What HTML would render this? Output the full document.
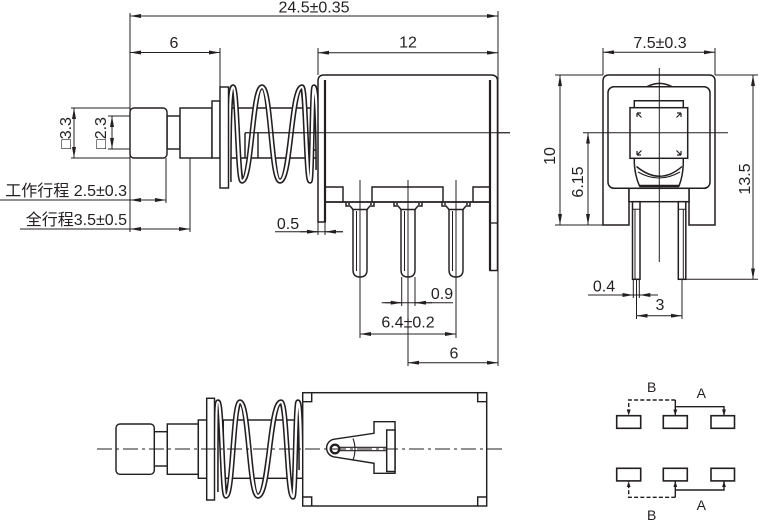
<!DOCTYPE html>
<html><head><meta charset="utf-8"><style>
html,body{margin:0;padding:0;background:#fff;}
svg{display:block;}
text{font-family:"Liberation Sans","Noto Sans CJK SC","DejaVu Sans",sans-serif;fill:#231f20;}
</style></head><body>
<svg width="760" height="520" viewBox="0 0 760 520" xmlns="http://www.w3.org/2000/svg">
<defs>
<marker id="a" viewBox="0 0 11 4" refX="11" refY="2" markerWidth="11" markerHeight="4" markerUnits="userSpaceOnUse" orient="auto-start-reverse"><path d="M0 0L11 2L0 4Z" fill="#231f20"/></marker>
<marker id="s" viewBox="0 0 6 4" refX="6" refY="2" markerWidth="6" markerHeight="4" markerUnits="userSpaceOnUse" orient="auto"><path d="M0 0L6 2L0 4Z" fill="#231f20"/></marker>
</defs>
<rect width="760" height="520" fill="#fff"/>

<!-- ===== dimension & extension lines ===== -->
<g stroke="#231f20" stroke-width="1" fill="none">
<line x1="130" y1="16" x2="498" y2="16" marker-start="url(#a)" marker-end="url(#a)"/>
<line x1="130" y1="52.5" x2="220" y2="52.5" marker-start="url(#a)" marker-end="url(#a)"/>
<line x1="318" y1="52.7" x2="498" y2="52.7" marker-start="url(#a)" marker-end="url(#a)"/>
<line x1="603" y1="52.3" x2="715" y2="52.3" marker-start="url(#a)" marker-end="url(#a)"/>
<line x1="74" y1="108" x2="74" y2="158" marker-start="url(#a)" marker-end="url(#a)"/>
<line x1="112" y1="116" x2="112" y2="149" marker-start="url(#a)" marker-end="url(#a)"/>
<line x1="0" y1="200" x2="166" y2="200"/>
<line x1="148" y1="200" x2="130" y2="200" marker-end="url(#a)"/>
<line x1="148" y1="200" x2="166" y2="200" marker-end="url(#a)"/>
<line x1="20" y1="229" x2="190" y2="229"/>
<line x1="160" y1="229" x2="130" y2="229" marker-end="url(#a)"/>
<line x1="160" y1="229" x2="190" y2="229" marker-end="url(#a)"/>
<line x1="275" y1="231.7" x2="343" y2="231.7"/>
<line x1="300" y1="231.7" x2="318" y2="231.7" marker-end="url(#a)"/>
<line x1="343" y1="231.7" x2="325" y2="231.7" marker-end="url(#a)"/>
<line x1="381.7" y1="302.7" x2="453" y2="302.7"/>
<line x1="385" y1="302.7" x2="401.7" y2="302.7" marker-end="url(#a)"/>
<line x1="432" y1="302.7" x2="415" y2="302.7" marker-end="url(#a)"/>
<line x1="360" y1="334" x2="456" y2="334" marker-start="url(#a)" marker-end="url(#a)"/>
<line x1="408" y1="362.7" x2="498" y2="362.7" marker-start="url(#a)" marker-end="url(#a)"/>
<line x1="560" y1="75" x2="560" y2="225" marker-start="url(#a)" marker-end="url(#a)"/>
<line x1="588" y1="132.7" x2="588" y2="225" marker-start="url(#a)" marker-end="url(#a)"/>
<line x1="753" y1="75" x2="753" y2="279.3" marker-start="url(#a)" marker-end="url(#a)"/>
<line x1="588" y1="295" x2="658" y2="295"/>
<line x1="615" y1="295" x2="633.3" y2="295" marker-end="url(#a)"/>
<line x1="658" y1="295" x2="639.3" y2="295" marker-end="url(#a)"/>
<line x1="636.5" y1="315.7" x2="682" y2="315.7" marker-start="url(#a)" marker-end="url(#a)"/>

<!-- extension lines -->
<line x1="130" y1="13" x2="130" y2="232"/>
<line x1="220" y1="48" x2="220" y2="87"/>
<line x1="318" y1="48" x2="318" y2="75"/>
<line x1="498" y1="11" x2="498" y2="366"/>
<line x1="603" y1="48" x2="603" y2="75"/>
<line x1="715" y1="48" x2="715" y2="75"/>
<line x1="71" y1="108" x2="130" y2="108"/>
<line x1="71" y1="158" x2="130" y2="158"/>
<line x1="108" y1="116" x2="130" y2="116"/>
<line x1="108" y1="149" x2="130" y2="149"/>
<line x1="166" y1="158" x2="166" y2="203"/>
<line x1="190" y1="158" x2="190" y2="232"/>
<line x1="318" y1="222" x2="318" y2="235"/>
<line x1="325" y1="222" x2="325" y2="235"/>
<line x1="401.7" y1="277" x2="401.7" y2="306"/>
<line x1="415" y1="277" x2="415" y2="306"/>
<line x1="555" y1="75" x2="603" y2="75"/>
<line x1="715" y1="75" x2="758" y2="75"/>
<line x1="555" y1="225" x2="603" y2="225"/>
<line x1="685" y1="279.3" x2="758" y2="279.3"/>
<line x1="633.3" y1="279" x2="633.3" y2="298"/>
<line x1="639.3" y1="279" x2="639.3" y2="298"/>
<line x1="636.5" y1="279" x2="636.5" y2="319"/>
<line x1="682" y1="279" x2="682" y2="319"/>
</g>

<!-- ===== TOP VIEW ===== -->
<g stroke="#231f20" stroke-width="1.45" fill="#fff">
<rect x="167" y="116" width="13" height="33"/>
<rect x="130" y="108" width="37" height="50" rx="4"/>
<rect x="180" y="108" width="32" height="50"/>
<rect x="212" y="101" width="8" height="57"/>
<line x1="228" y1="108" x2="318" y2="108"/>
<line x1="228" y1="158" x2="318" y2="158"/>
<path d="M245 158 L245 132.7 M258 158 L258 132.7 M313 158 L313 150 L318 150" fill="none"/>
</g>
<line x1="245" y1="132.7" x2="510" y2="132.7" stroke="#231f20" stroke-width="1"/>
<!-- spring -->
<path d="M229 182 C229 120 230 87 233 87 C237.5 87 237.5 181 242 181 C252 181 252 87 262 87 C271 87 271 181 280 181 C291 181 291 87 302 87 C306 87 306 181 310 181 C312 181 312 87 314 87 C316 87 318 120 318 170" fill="none" stroke="#231f20" stroke-width="5.4"/>
<path d="M229 182 C229 120 230 87 233 87 C237.5 87 237.5 181 242 181 C252 181 252 87 262 87 C271 87 271 181 280 181 C291 181 291 87 302 87 C306 87 306 181 310 181 C312 181 312 87 314 87 C316 87 318 120 318 170" fill="none" stroke="#fff" stroke-width="2.3"/>
<rect x="220" y="87" width="8.5" height="101" fill="#fff" stroke="#231f20" stroke-width="1.45"/>

<!-- body top view -->
<g stroke="#231f20" fill="#fff">
<path d="M318 222 L318 81 Q318 75 324 75 L491 75 Q497.5 75 497.5 81 L497.5 270.5 L490 270.5 L490 202 L325 202 L325 222 Z" stroke-width="1.5"/>
<line x1="325" y1="80" x2="325" y2="222" stroke-width="2.2"/>
<line x1="490" y1="80" x2="490" y2="270.5" stroke-width="2.2"/>
<line x1="490" y1="223" x2="497.5" y2="223" stroke-width="1.3"/>
<path d="M325 187 L343 187 L343 202 M372 202 L372 187 L443 187 L443 202 M473 202 L473 187 L490 187" fill="none" stroke-width="1.45"/>
<line x1="325" y1="202" x2="490" y2="202" stroke-width="1.45"/>
<line x1="245" y1="132.7" x2="510" y2="132.7" stroke-width="1"/>
</g>
<!-- pins top view -->
<g stroke="#231f20" stroke-width="1.45" fill="#fff">
<path d="M353 209 L353 270 Q353 277 360 277 Q367 277 367 270 L367 209"/>
<path d="M401 209 L401 270 Q401 277 408 277 Q415 277 415 270 L415 209"/>
<path d="M449 209 L449 270 Q449 277 456 277 Q463 277 463 270 L463 209"/>
<path d="M356.5 211 L356.5 271 M404.5 211 L404.5 271 M452.5 211 L452.5 271" fill="none" stroke-width="1"/>
<path d="M346 202 L346 206 L350 206 L353 209.5 L367 209.5 L370 206 L374 206 L374 202 M348 204 L350 204 M370 204 L372 204" fill="none"/>
<path d="M394 202 L394 206 L398 206 L401 209.5 L415 209.5 L418 206 L422 206 L422 202 M396 204 L398 204 M418 204 L420 204" fill="none"/>
<path d="M442 202 L442 206 L446 206 L449 209.5 L463 209.5 L466 206 L470 206 L470 202 M444 204 L446 204 M466 204 L468 204" fill="none"/>
</g>
<g stroke="#231f20" stroke-width="1">
<line x1="360" y1="180" x2="360" y2="338"/>
<line x1="456" y1="180" x2="456" y2="338"/>
<line x1="408" y1="180" x2="408" y2="366"/>
</g>

<!-- ===== RIGHT VIEW ===== -->
<g stroke="#231f20" stroke-width="1.5" fill="#fff">
<path d="M603 225 L603 81 Q603 75 609 75 L709 75 Q715 75 715 81 L715 225 L689 225 L689 188.3 L629 188.3 L629 225 Z"/>
<rect x="608" y="86.7" width="102" height="101.6" rx="6"/>
<rect x="629" y="188.3" width="60" height="13.4"/>
<path d="M647 86.7 Q659.5 80 672 86.7" fill="none"/>
<path d="M634.3 100.7 L683.3 100.7 L683.3 163 Q683 176 679 186 L639.5 186 Q635 176 634.3 163 Z"/>
<line x1="639.5" y1="186" x2="679" y2="186" stroke-width="2.5"/>
<rect x="630" y="107.7" width="57.7" height="50.6"/>
<path d="M636.5 166.5 Q660 186 682 166.5" fill="none"/>
<path d="M638 172 Q659 184 680 172" fill="none" stroke-width="1.1"/>
<path d="M641.5 117.5 L637 113 M637 113 L637 117 M637 113 L641 113 M676.5 117.5 L681 113 M681 113 L681 117 M681 113 L677 113 M641.5 150.5 L637 155 M637 155 L637 151 M637 155 L641 155 M676.5 150.5 L681 155 M681 155 L681 151 M681 155 L677 155" fill="none" stroke-width="1.2"/>
<rect x="632.5" y="201.7" width="7.5" height="77.6"/>
<rect x="678.3" y="201.7" width="7.5" height="77.6"/>
<path d="M635 209.3 L635 279 M632.5 209.3 L640 209.3 M683.3 209.3 L683.3 279 M678.3 209.3 L685.8 209.3" fill="none" stroke-width="1"/>
</g>
<g stroke="#231f20" stroke-width="1">
<line x1="659.3" y1="68" x2="659.3" y2="262"/>
<line x1="583" y1="132.7" x2="728" y2="132.7"/>
</g>

<!-- ===== BOTTOM VIEW ===== -->
<g stroke="#231f20" stroke-width="1.45" fill="#fff">
<rect x="154" y="431.7" width="13.3" height="34.3"/>
<rect x="116" y="424" width="38.3" height="50.3" rx="4"/>
<rect x="167.3" y="424" width="31" height="50.3"/>
<rect x="198.3" y="420" width="8.4" height="58.3"/>
<rect x="223.3" y="420" width="79.4" height="58.3"/>
</g>
<path d="M216 492 C216 440 216 402 218 402 C222 402 222 496 226 496 C233 496 233 402 240 402 C249 402 249 496 258 496 C269.5 496 269.5 402 281 402 C287 402 287 497 293 497 C295.5 497 295.5 402 298 402 C300 402 301 430 301 470" fill="none" stroke="#231f20" stroke-width="5.4"/>
<path d="M216 492 C216 440 216 402 218 402 C222 402 222 496 226 496 C233 496 233 402 240 402 C249 402 249 496 258 496 C269.5 496 269.5 402 281 402 C287 402 287 497 293 497 C295.5 497 295.5 402 298 402 C300 402 301 430 301 470" fill="none" stroke="#fff" stroke-width="2.3"/>
<g stroke="#231f20" stroke-width="1.45" fill="#fff">
<rect x="206.7" y="398.3" width="7.8" height="101.7"/>
<rect x="302.7" y="392.7" width="184" height="113.3"/>
<path d="M311.7 392.7 L311.7 401.7 L302.7 401.7 M477.7 392.7 L477.7 401.7 L486.7 401.7 M311.7 506 L311.7 497 L302.7 497 M477.7 506 L477.7 497 L486.7 497" fill="none"/>
<path d="M374 433.3 L374 421.7 L395 421.7 L395 473.3 L374 473.3 L374 463.3 L333.5 456.8 A9 9 0 0 1 333.5 439.3 Z"/>
<rect x="386.7" y="430" width="8.3" height="41.5"/>
<path d="M353 438.5 Q357 449 353 460" fill="none" stroke-width="1.1"/>
<path d="M335 447.3 L386.7 447.3 M335 450.7 L386.7 450.7" fill="none" stroke-width="1.1"/>
<circle cx="335" cy="449" r="4.3" stroke-width="2.3"/>
</g>
<line x1="97" y1="449" x2="505" y2="449" stroke="#231f20" stroke-width="1" stroke-dasharray="15 4 3 4"/>

<!-- ===== SCHEMATIC ===== -->
<g stroke="#231f20" stroke-width="1.6" fill="#fff">
<rect x="616.7" y="415.7" width="24" height="12.6"/>
<rect x="663.3" y="415.7" width="24" height="12.6"/>
<rect x="711" y="415.7" width="23.5" height="12.6"/>
<rect x="616.7" y="468.3" width="24" height="12.6"/>
<rect x="663.3" y="468.3" width="24" height="12.6"/>
<rect x="711" y="468.3" width="23.5" height="12.6"/>
</g>
<g stroke="#231f20" stroke-width="1.4" fill="none">
<path d="M675.3 400 L628.7 400 L628.7 415.5" stroke-dasharray="4 2.2" marker-end="url(#s)"/>
<path d="M675.3 400 L675.3 415.5" marker-end="url(#s)"/>
<path d="M675.3 406.7 L724 406.7 L724 415.5" marker-end="url(#s)"/>
<path d="M675.3 497.3 L628.7 497.3 L628.7 481.2" stroke-dasharray="4 2.2" marker-end="url(#s)"/>
<path d="M675.3 497.3 L675.3 481.2" marker-end="url(#s)"/>
<path d="M675.3 490 L724 490 L724 481.2" marker-end="url(#s)"/>
</g>

<!-- ===== TEXT ===== -->
<g font-size="16">
<text x="314" y="12.5" text-anchor="middle">24.5±0.35</text>
<text x="174" y="48" text-anchor="middle">6</text>
<text x="408" y="47.5" text-anchor="middle">12</text>
<text x="660" y="48" text-anchor="middle">7.5±0.3</text>
<text transform="translate(71,133) rotate(-90)" text-anchor="middle">□3.3</text>
<text transform="translate(106,133) rotate(-90)" text-anchor="middle">□2.3</text>
<text x="288" y="229" text-anchor="middle">0.5</text>
<text x="442" y="299" text-anchor="middle">0.9</text>
<text x="408" y="327.5" text-anchor="middle">6.4±0.2</text>
<text x="454" y="358.3" text-anchor="middle">6</text>
<text transform="translate(555,156) rotate(-90)" text-anchor="middle">10</text>
<text transform="translate(583,182) rotate(-90)" text-anchor="middle">6.15</text>
<text transform="translate(750,179) rotate(-90)" text-anchor="middle">13.5</text>
<text x="604" y="291.7" text-anchor="middle">0.4</text>
<text x="660" y="310" text-anchor="middle">3</text>
</g>
<g font-size="16">
<text x="127" y="196" text-anchor="end">工作行程 2.5±0.3</text>
<text x="127" y="225" text-anchor="end">全行程3.5±0.5</text>
</g>
<g font-size="14">
<text x="651.7" y="392" text-anchor="middle">B</text>
<text x="701.3" y="398" text-anchor="middle">A</text>
<text x="651.7" y="520" text-anchor="middle">B</text>
<text x="701.3" y="510" text-anchor="middle">A</text>
</g>
</svg>
</body></html>
